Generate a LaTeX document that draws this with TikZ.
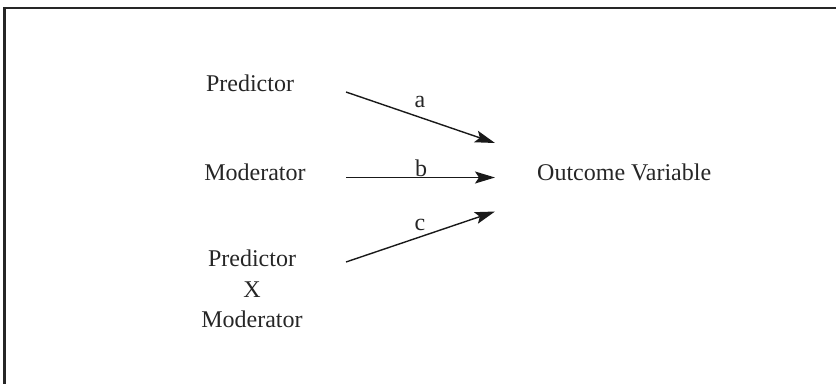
\documentclass[tikz,border=0pt]{standalone}
\usepackage{fontspec}
\setmainfont{Liberation Serif}
\usetikzlibrary{arrows.meta}
\begin{document}
\begin{tikzpicture}[x=1pt,y=-1pt,
  lbl/.style={inner sep=0pt,font=\fontsize{24}{30.5}\selectfont,text=black!85},
  arr/.style={line width=1.4pt,black!90,-{Stealth[length=20pt,width=12pt,inset=4pt]}},
  frame/.style={line width=2.5pt,black!85}]
\useasboundingbox (0,0) rectangle (836,384);
\draw[frame] (836,8) -- (4.5,8) -- (4.5,384);
\node[lbl] (pred) at (250,83) {Predictor};
\node[lbl] (mod) at (255,172) {Moderator};
\node[lbl,align=center] (inter) at (252,289) {Predictor\\X\\Moderator};
\node[lbl,anchor=west] (out) at (537,172) {Outcome Variable};
\coordinate (a1) at (346,92);
\coordinate (a2) at (495,143);
\coordinate (b1) at (346,177.5);
\coordinate (b2) at (495,177.5);
\coordinate (c1) at (346,262);
\coordinate (c2) at (495,211.5);
\draw[arr] (a1) -- (a2);
\draw[arr] (b1) -- (b2);
\draw[arr] (c1) -- (c2);
\node[lbl] (la) at (420,102) {a};
\node[lbl] (lb) at (421,168) {b};
\node[lbl] (lc) at (420,225) {c};
\end{tikzpicture}
\end{document}
